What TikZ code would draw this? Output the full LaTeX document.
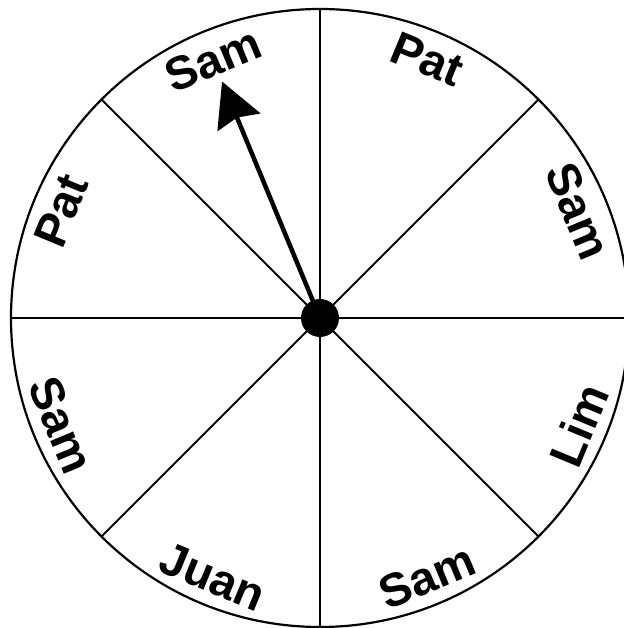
\documentclass[tikz,border=0pt]{standalone}
\usepackage{fontspec}
\setmainfont{Liberation Sans}
\usetikzlibrary{arrows.meta}

\begin{document}
\begin{tikzpicture}[
        x=1bp, y=1bp,
        rim/.style = {draw, line width=2.2bp},
        spoke/.style = {line width=1.9bp},
        slice/.style = {font=\fontsize{47}{47}\selectfont\bfseries, inner sep=0pt, anchor=center},
        hub/.style = {circle, fill=black, minimum size=38bp, inner sep=0pt},
        pointer/.style = {line width=4.5bp, -{Stealth[length=44bp, width=46bp, inset=5bp]}}
    ]
        \useasboundingbox (-320,-310) rectangle (304,318);

        % Wheel
        \draw [rim] (0,0) circle (309);
        \foreach \a in {0,45,...,315}
            \draw [spoke] (0,0) -- (\a:309);

        % Nodes
        \foreach \a/\who [count=\i] in {22.5/Sam, 67.5/Pat, 112.5/Sam, 157.5/Pat, 202.5/Sam, 247.5/Juan, 292.5/Sam, 337.5/Lim} {
            \pgfmathsetmacro{\turn}{\a<180 ? \a-90 : \a-270}
            \node [slice, rotate=\turn] (who\i) at (\a:280) {\who};
        }
        \node [hub] (hub) at (0,0) {};
        \coordinate (tip) at (112.5:256);

        % Connections
        \draw [pointer] (hub.center) -- (tip);
    \end{tikzpicture}
\end{document}
